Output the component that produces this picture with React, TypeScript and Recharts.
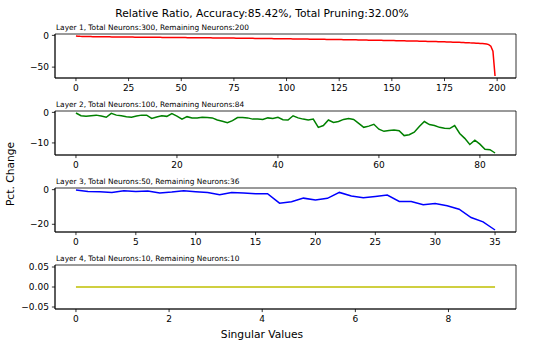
import { Line, LineChart, ReferenceArea, XAxis, YAxis } from "recharts";

const FONT = "DejaVu Sans";

const layer1Values = [
  -1.0, -1.3, -1.5, -1.6, -1.7, -1.8, -1.8, -1.9, -2.0, -2.0,
  -2.1, -2.1, -2.2, -2.2, -2.3, -2.3, -2.3, -2.4, -2.4, -2.5,
  -2.5, -2.5, -2.6, -2.6, -2.6, -2.7, -2.7, -2.7, -2.8, -2.8,
  -2.8, -2.9, -2.9, -2.9, -3.0, -3.0, -3.0, -3.0, -3.1, -3.1,
  -3.1, -3.2, -3.2, -3.2, -3.3, -3.3, -3.3, -3.4, -3.4, -3.4,
  -3.5, -3.5, -3.5, -3.6, -3.6, -3.6, -3.7, -3.7, -3.7, -3.8,
  -3.8, -3.8, -3.9, -3.9, -3.9, -4.0, -4.0, -4.0, -4.1, -4.1,
  -4.1, -4.2, -4.2, -4.3, -4.3, -4.3, -4.4, -4.4, -4.5, -4.5,
  -4.5, -4.6, -4.6, -4.7, -4.7, -4.8, -4.8, -4.8, -4.9, -4.9,
  -5.0, -5.0, -5.1, -5.1, -5.2, -5.2, -5.3, -5.3, -5.3, -5.4,
  -5.4, -5.5, -5.5, -5.6, -5.6, -5.7, -5.7, -5.8, -5.8, -5.9,
  -5.9, -6.0, -6.0, -6.1, -6.1, -6.2, -6.2, -6.3, -6.3, -6.4,
  -6.4, -6.5, -6.5, -6.6, -6.6, -6.7, -6.7, -6.8, -6.8, -6.9,
  -6.9, -7.0, -7.0, -7.1, -7.2, -7.2, -7.3, -7.3, -7.4, -7.5,
  -7.5, -7.6, -7.6, -7.7, -7.8, -7.8, -7.9, -8.0, -8.0, -8.1,
  -8.2, -8.2, -8.3, -8.4, -8.4, -8.5, -8.6, -8.7, -8.7, -8.8,
  -8.9, -9.0, -9.0, -9.1, -9.2, -9.3, -9.4, -9.5, -9.5, -9.6,
  -9.7, -9.8, -9.9, -10.0, -10.1, -10.2, -10.3, -10.4, -10.5, -10.7,
  -10.8, -10.9, -11.0, -11.2, -11.3, -11.5, -11.6, -11.8, -11.9, -12.1,
  -12.3, -12.5, -12.7, -13.0, -13.3, -13.7, -14.5, -17.0, -25.0, -64.0,
];

const layer2Values = [
  -0.2, -1.1, -1.3, -1.1, -0.9, -1.2, -1.6, -0.3, -0.9, -1.1,
  -1.4, -1.6, -1.2, -0.9, -0.9, -2.0, -1.5, -1.1, -1.3, -0.4,
  -1.2, -2.2, -1.4, -1.8, -1.8, -1.6, -1.7, -1.8, -2.5, -2.9,
  -3.4, -2.7, -1.7, -1.7, -1.8, -2.2, -2.2, -2.3, -1.8, -2.0,
  -1.6, -2.4, -2.5, -1.1, -1.8, -2.2, -2.5, -2.2, -4.9, -4.3,
  -2.5, -3.3, -3.0, -2.3, -2.0, -2.3, -3.6, -4.9, -4.5, -3.9,
  -5.5, -6.2, -5.9, -5.8, -6.0, -7.6, -7.3, -6.5, -4.6, -3.0,
  -4.0, -4.3, -4.9, -5.2, -5.3, -4.3, -6.9, -8.5, -10.5, -9.1,
  -10.4, -12.1, -12.2, -13.3,
];

const layer3Values = [
  -0.2, -1.0, -1.2, -1.6, -0.6, -1.0, -0.8, -1.9, -1.4, -0.6,
  -1.2, -1.7, -2.9, -1.6, -1.9, -2.3, -2.3, -7.8, -7.0, -4.9,
  -6.0, -5.0, -1.6, -3.7, -4.7, -3.9, -3.1, -6.8, -6.8, -8.7,
  -8.0, -9.3, -11.3, -16.1, -18.6, -23.3,
];

const layer4Values = [0, 0, 0, 0, 0, 0, 0, 0, 0, 0];

const layer1XTicks = [0, 25, 50, 75, 100, 125, 150, 175, 200];
const layer2XTicks = [0, 20, 40, 60, 80];
const layer3XTicks = [0, 5, 10, 15, 20, 25, 30, 35];
const layer4XTicks = [0, 2, 4, 6, 8];

const layer1YTicks = [-50, 0];
const layer2YTicks = [-10, 0];
const layer3YTicks = [-20, 0];
const layer4YTicks = [-0.05, 0, 0.05];

type Panel = {
  title: string;
  values: number[];
  color: string;
  xTicks: number[];
  yTicks: number[];
  decimals: number;
};

const panels: Panel[] = [
  {
    title: "Layer 1, Total Neurons:300, Remaining Neurons:200",
    values: layer1Values,
    color: "#ff0000",
    xTicks: layer1XTicks,
    yTicks: layer1YTicks,
    decimals: 0,
  },
  {
    title: "Layer 2, Total Neurons:100, Remaining Neurons:84",
    values: layer2Values,
    color: "#008000",
    xTicks: layer2XTicks,
    yTicks: layer2YTicks,
    decimals: 0,
  },
  {
    title: "Layer 3, Total Neurons:50, Remaining Neurons:36",
    values: layer3Values,
    color: "#0000ff",
    xTicks: layer3XTicks,
    yTicks: layer3YTicks,
    decimals: 0,
  },
  {
    title: "Layer 4, Total Neurons:10, Remaining Neurons:10",
    values: layer4Values,
    color: "#bfbf00",
    xTicks: layer4XTicks,
    yTicks: layer4YTicks,
    decimals: 2,
  },
];

// layout (px)
const BOX_LEFT = 55;
const BOX_RIGHT = 516;
const BOX_H = 44;
const BOX_TOPS = [34, 111, 188, 265];
const PAD_TOP = 10;
const AXIS_H = 22;

// matplotlib-style autoscale: 5% margin, constant data widened to +/-0.05
function padded(values: number[]): [number, number] {
  let lo = Math.min(...values);
  let hi = Math.max(...values);
  if (lo === hi) {
    lo -= 0.05;
    hi += 0.05;
  }
  const m = (hi - lo) * 0.05;
  return [lo - m, hi + m];
}

const fmt = (decimals: number) => (v: number) =>
  Number(v).toFixed(decimals).replace("-", "\u2212");

const tickStyle = { fontSize: 9, fill: "#000", fontFamily: FONT };

function PanelChart({ panel, top }: { panel: Panel; top: number }) {
  const data = panel.values.map((value, index) => ({ index, value }));
  const xDomain = padded([0, panel.values.length - 1]);
  const yDomain = padded(panel.values);
  return (
    <div style={{ position: "absolute", left: 0, top: top - PAD_TOP }}>
      <LineChart
        width={550}
        height={PAD_TOP + BOX_H + AXIS_H}
        data={data}
        margin={{ top: PAD_TOP, right: 550 - BOX_RIGHT, bottom: 0, left: 0 }}
      >
        <XAxis
          type="number"
          dataKey="index"
          domain={xDomain}
          ticks={panel.xTicks}
          allowDataOverflow
          interval={0}
          height={AXIS_H}
          tick={tickStyle}
          tickSize={3.1}
          tickMargin={3.5}
          stroke="#000"
          strokeWidth={0.8}
        />
        <YAxis
          type="number"
          domain={yDomain}
          ticks={panel.yTicks}
          allowDataOverflow
          interval={0}
          width={BOX_LEFT}
          tick={tickStyle}
          tickSize={3.1}
          tickMargin={3}
          tickFormatter={fmt(panel.decimals)}
          stroke="#000"
          strokeWidth={0.8}
        />
        <ReferenceArea
          x1={xDomain[0]}
          x2={xDomain[1]}
          y1={yDomain[0]}
          y2={yDomain[1]}
          fill="none"
          stroke="#000"
          strokeWidth={0.8}
        />
        <Line
          type="linear"
          dataKey="value"
          stroke={panel.color}
          strokeWidth={1.5}
          dot={false}
          isAnimationActive={false}
        />
      </LineChart>
    </div>
  );
}

export default function App() {
  return (
    <div
      style={{
        position: "absolute",
        left: 0,
        top: 0,
        width: 550,
        height: 347,
        background: "#fff",
        overflow: "hidden",
      }}
    >
      {panels.map((p, i) => (
        <PanelChart key={p.title} panel={p} top={BOX_TOPS[i]} />
      ))}
      <svg
        width={550}
        height={347}
        style={{ position: "absolute", left: 0, top: 0, pointerEvents: "none" }}
        fontFamily={FONT}
      >
        <text x={262} y={17} fontSize={10.7} textAnchor="middle" fill="#000">
          Relative Ratio, Accuracy:85.42%, Total Pruning:32.00%
        </text>
        {panels.map((p, i) => (
          <text key={p.title} x={56} y={BOX_TOPS[i] - 4.5} fontSize={7.4} fill="#000">
            {p.title}
          </text>
        ))}
        <text x={262} y={338} fontSize={10.7} textAnchor="middle" fill="#000">
          Singular Values
        </text>
        <text
          x={14}
          y={174}
          fontSize={10.7}
          textAnchor="middle"
          fill="#000"
          transform="rotate(-90, 14, 174)"
        >
          Pct. Change
        </text>
      </svg>
    </div>
  );
}
